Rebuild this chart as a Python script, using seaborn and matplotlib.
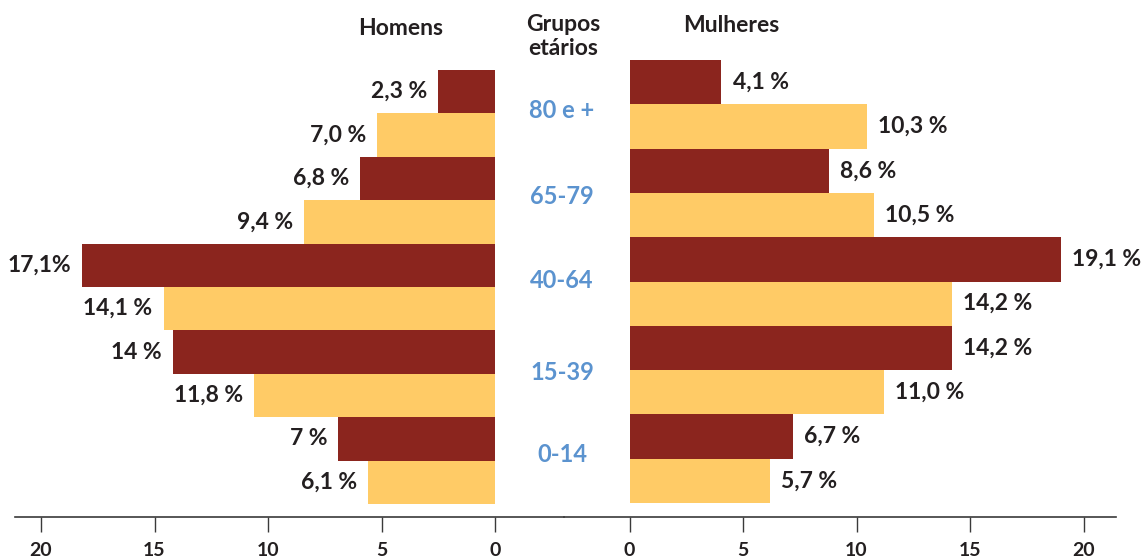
import seaborn as sns
import matplotlib.pyplot as plt
import pandas as pd

# grupos etarios, de cima para baixo; cada grupo tem duas barras (escura em cima, clara em baixo)
faixas = ["80 e +", "65-79", "40-64", "15-39", "0-14"]
series = ["escuro", "claro"]

# comprimentos das barras
homens_escuro = [2.5, 5.95, 18.2, 14.2, 6.9]
homens_claro = [5.2, 8.4, 14.6, 10.6, 5.6]
mulheres_escuro = [4.05, 8.8, 19.0, 14.2, 7.2]
mulheres_claro = [10.45, 10.75, 14.2, 11.2, 6.2]

# rotulos impressos junto das barras
rot_homens_escuro = ["2,3 %", "6,8 %", "17,1%", "14 %", "7 %"]
rot_homens_claro = ["7,0 %", "9,4 %", "14,1 %", "11,8 %", "6,1 %"]
rot_mulheres_escuro = ["4,1 %", "8,6 %", "19,1 %", "14,2 %", "6,7 %"]
rot_mulheres_claro = ["10,3 %", "10,5 %", "14,2 %", "11,0 %", "5,7 %"]

ticks = [0, 5, 10, 15, 20]

vermelho = "#8B251E"
amarelo = "#FFCB66"
azul = "#5B93CF"
preto = "#231F20"
peso = "bold"


def monta_tabela(escuro, claro, rot_escuro, rot_claro):
    linhas = []
    for i, f in enumerate(faixas):
        linhas.append({"barra": f + " a", "serie": "escuro", "valor": escuro[i], "rotulo": rot_escuro[i]})
        linhas.append({"barra": f + " b", "serie": "claro", "valor": claro[i], "rotulo": rot_claro[i]})
    return pd.DataFrame(linhas)


homens = monta_tabela(homens_escuro, homens_claro, rot_homens_escuro, rot_homens_claro)
mulheres = monta_tabela(mulheres_escuro, mulheres_claro, rot_mulheres_escuro, rot_mulheres_claro)

sns.set_theme(style="white")
plt.rcParams["font.family"] = ["Lato", "DejaVu Sans"]
plt.rcParams["font.weight"] = peso

W, H = 1145, 558
eixo_y = 517.4   # linha do eixo (px a partir do topo)
escala = 22.7    # px por ponto percentual

fig = plt.figure(figsize=(W / 100, H / 100), dpi=100)
ax_h = fig.add_axes([15 / W, (H - eixo_y) / H, (564 - 15) / W, eixo_y / H])
ax_m = fig.add_axes([564 / W, (H - eixo_y) / H, (1116 - 564) / W, eixo_y / H])

cores = {"escuro": vermelho, "claro": amarelo}

for ax, df, zero, topo, passo, lado in [
    (ax_h, homens, 495, 70, 43.4, -1),
    (ax_m, mulheres, 629.5, 60, 44.3, 1),
]:
    sns.barplot(data=df, x="valor", y="barra", hue="serie", palette=cores,
                order=list(df["barra"]), dodge=False, width=1.0, saturation=1,
                linewidth=0, legend=False, ax=ax)
    # limites em x a partir da posicao em pixels do zero
    esq, dir_ = (15, 564) if lado < 0 else (564, 1116)
    if lado < 0:
        ax.set_xlim((zero - esq) / escala, (zero - dir_) / escala)
    else:
        ax.set_xlim((esq - zero) / escala, (dir_ - zero) / escala)
    centro0 = topo + passo / 2
    ax.set_ylim((eixo_y - centro0) / passo, -centro0 / passo)

    for i, (v, txt) in enumerate(zip(df["valor"], df["rotulo"])):
        ax.annotate(txt, xy=(v, i), xytext=(8 * lado, 0), textcoords="offset points",
                    ha="left" if lado > 0 else "right", va="center",
                    fontsize=16.5, fontweight=peso, color=preto)

    ax.set_xticks(ticks)
    ax.set_xticklabels([str(t) for t in ticks], fontsize=14, fontweight=peso, color=preto)
    ax.set_yticks([])
    ax.set_xlabel("")
    ax.set_ylabel("")
    for s in ["top", "left", "right"]:
        ax.spines[s].set_visible(False)
    ax.spines["bottom"].set_color("#3a3a3a")
    ax.spines["bottom"].set_linewidth(1.2)
    ax.tick_params(axis="x", direction="out", length=11, width=1, color="#3a3a3a", pad=7, bottom=True)
    ax.patch.set_alpha(0)


def fx(px):
    return px / W


def fy(py):
    return 1 - py / H


# titulos, posicionados pela linha de base
fig.text(fx(401), fy(35), "Homens", ha="center", va="baseline", fontsize=16.5, fontweight=peso, color=preto)
fig.text(fx(731), fy(32), "Mulheres", ha="center", va="baseline", fontsize=16.5, fontweight=peso, color=preto)
fig.text(fx(563), fy(31), "Grupos", ha="center", va="baseline", fontsize=16.5, fontweight=peso, color=preto)
fig.text(fx(563), fy(55), "etários", ha="center", va="baseline", fontsize=16.5, fontweight=peso, color=preto)

pos_faixas = [111, 196, 281, 373, 455]
for f, py in zip(faixas, pos_faixas):
    fig.text(fx(562), fy(py), f, ha="center", va="center", fontsize=17, fontweight=peso, color=azul)

fig.savefig("out.png", dpi=100, facecolor="white")
